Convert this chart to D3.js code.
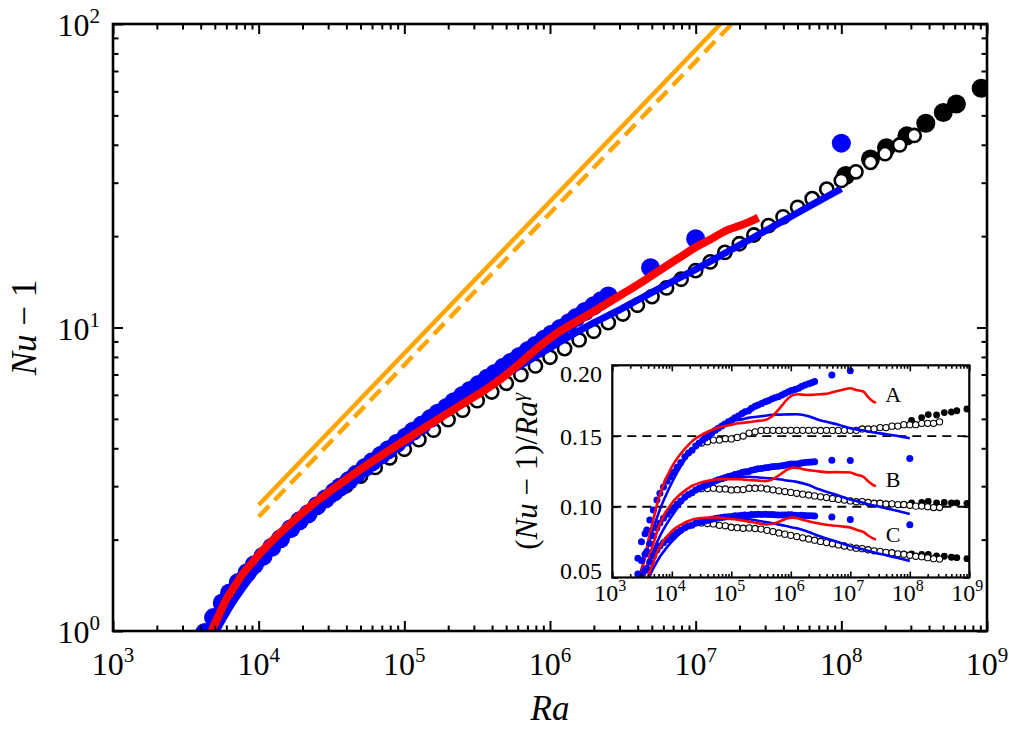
<!DOCTYPE html>
<html>
<head>
<meta charset="utf-8">
<script src="https://cdn.jsdelivr.net/npm/d3@7"></script>
<style>
  body { margin: 0; background: #fff; }
  text { font-family: "Liberation Serif", "Times New Roman", serif; fill: #000; }
</style>
</head>
<body>
<svg id="chart" width="1009" height="733" font-family="Liberation Serif, Times New Roman, serif"></svg>
<script>
// ---- data (Ra given as log10 exponent) ----

// black open circles
var blackOpenLogRa = [4.5,4.6,4.7,4.8,4.9,5.0,5.1,5.2,5.3,5.4,5.5,5.6,5.7,5.8,5.9,6.0,6.1,6.2,6.3,6.4,
                      6.5,6.6,6.7,6.8,6.9,7.0,7.1,7.2,7.3,7.4,7.5,7.6,7.7,7.8,7.9,8.0,8.1,8.2,8.3,8.4,8.5];
var blackOpenNu = [2.80,3.01,3.24,3.46,3.72,3.97,4.27,4.59,4.97,5.34,5.74,6.13,6.55,6.99,7.47,7.98,8.52,9.10,9.72,10.38,
                   11.08,11.84,12.64,13.50,14.42,15.40,16.45,17.68,18.88,20.17,21.67,23.15,24.88,26.58,28.57,30.51,32.58,35.01,37.40,39.94,42.93];

// black filled circles
var blackFillLogRa = [8.03,8.2,8.31,8.45,8.58,8.70,8.79,8.96];
var blackFillNu = [31.7,35.9,39.1,42.8,47.1,51.1,54.5,61.4];

// blue filled circles
var blueDotLogRa = [3.43,3.49,3.55,3.58,3.63,3.69,3.75,3.80,3.86,3.92,3.97,4.03,4.09,4.15,4.22,4.28,4.34,4.40,4.46,4.52,
                    4.56,4.62,4.67,4.73,4.78,4.84,4.89,4.95,5.01,5.06,5.12,5.18,5.23,5.29,5.34,5.40,5.45,5.51,5.57,5.62,
                    5.68,5.73,5.79,5.85,5.90,5.96,6.01,6.07,6.13,6.18,6.24,6.30,6.35,6.40,6.69,7.00,8.00];
var blueDotNu = [0.607,0.748,0.837,0.881,0.988,1.107,1.236,1.334,1.444,1.555,1.652,1.764,1.887,2.014,2.174,2.306,2.433,2.585,2.727,2.875,
                 2.981,3.134,3.282,3.459,3.609,3.792,3.955,4.154,4.359,4.549,4.768,5.013,5.218,5.453,5.692,5.968,6.204,6.491,6.803,7.06,
                 7.395,7.676,8.022,8.40,8.73,9.15,9.50,9.92,10.37,10.79,11.29,11.80,12.24,12.70,15.75,19.62,40.5];

// blue thick line
var blueLineLogRa = [3.45,3.52,3.60,3.70,3.80,3.90,4.00,4.10,4.20,4.30,4.40,4.50,4.60,4.70,4.80,4.90,5.00,5.15,5.30,5.50,
                     5.70,5.90,6.10,6.30,6.46,6.60,6.80,7.00,7.20,7.40,7.60,7.80,8.00];
var blueLineNu = [0.483,0.608,0.769,0.980,1.194,1.405,1.625,1.855,2.092,2.336,2.585,2.838,3.114,3.402,3.693,3.994,4.306,4.782,5.327,6.112,
                  7.016,8.012,9.150,10.35,11.32,12.30,13.85,15.55,17.57,19.84,22.45,25.40,28.66];

// red thick line
var redLogRa = [3.47,3.55,3.60,3.66,3.72,3.77,3.83,3.89,3.95,4.00,4.11,4.20,4.28,4.36,4.45,4.55,4.67,4.78,4.89,5.00,
                5.12,5.23,5.34,5.45,5.57,5.68,5.79,5.86,5.93,6.04,6.13,6.25,6.35,6.50,6.63,6.75,6.88,7.00,7.10,7.22,
                7.30,7.38,7.43];
var redNu = [0.490,0.668,0.801,0.955,1.110,1.251,1.392,1.539,1.668,1.782,2.023,2.219,2.401,2.589,2.794,3.032,3.331,3.621,3.920,4.239,
             4.617,4.978,5.373,5.796,6.296,6.871,7.598,8.126,8.684,9.519,10.13,10.93,11.68,12.92,14.12,15.40,16.89,18.38,19.49,20.97,
             21.62,22.40,23.02];

// orange reference lines (slope 1/2)
var orangeSolidLogRa = [4.0, 7.17];
var orangeSolidNu = [2.6, 100];
var orangeDashLogRa = [4.0, 7.247];
var orangeDashNu = [2.38, 100];

// inset: compensated Nu, one curve set per exponent
var insetNames = ["A", "B", "C"];
var insetGamma = [2/7, 0.31, 1/3];
var insetRefLines = [0.15, 0.10];

var xTickExp = [3,4,5,6,7,8,9];
var yTickExp = [0,1,2];
var insetYTicks = [0.05, 0.10, 0.15, 0.20];

// ---- drawing ----
var svg = d3.select("#chart");
var box = {left:113, right:987, top:24, bottom:631};
var ibox = {left:612.3, right:969.3, top:365.3, bottom:577.5};

var x = d3.scaleLog().domain([1e3, 1e9]).range([box.left, box.right]);
var y = d3.scaleLog().domain([1, 100]).range([box.bottom, box.top]);
var xi = d3.scaleLog().domain([1e3, 1e9]).range([ibox.left, ibox.right]);
var yi = d3.scaleLinear().domain([0.05, 0.20]).range([ibox.bottom, ibox.top]);

var BLUE = "#0000ff", RED = "#ff0000", ORANGE = "#ffa500";
var SERIF = "Liberation Serif, Times New Roman, serif";

function pts(logRa, nu) {
    return logRa.map(function(e, i){ return {ra: Math.pow(10, e), nu: nu[i]}; });
}
function isDecade(v) {
    var l = Math.log10(v);
    return Math.abs(l - Math.round(l)) < 1e-6;
}

var defs = svg.append("defs");
defs.append("clipPath").attr("id", "clipMain").append("rect")
    .attr("x", box.left).attr("y", box.top)
    .attr("width", box.right - box.left).attr("height", box.bottom - box.top);
defs.append("clipPath").attr("id", "clipInset").append("rect")
    .attr("x", ibox.left).attr("y", ibox.top)
    .attr("width", ibox.right - ibox.left).attr("height", ibox.bottom - ibox.top);

// draw all series onto a group; fy maps a point to its plotted value
function drawSeries(g, sx, sy, fy, st) {
    var line = d3.line()
        .x(function(d){ return sx(d.ra); })
        .y(function(d){ return sy(fy(d)); })
        .curve(d3.curveMonotoneX);

    g.selectAll(null).data(pts(blackFillLogRa, blackFillNu)).enter().append("circle")
        .attr("cx", function(d){ return sx(d.ra); })
        .attr("cy", function(d){ return sy(fy(d)); })
        .attr("r", st.rFill).attr("fill", "#000");

    g.selectAll(null).data(pts(blackOpenLogRa, blackOpenNu)).enter().append("circle")
        .attr("cx", function(d){ return sx(d.ra); })
        .attr("cy", function(d){ return sy(fy(d)); })
        .attr("r", st.rOpen).attr("fill", "#fff")
        .attr("stroke", "#000").attr("stroke-width", st.openStroke);

    g.selectAll(null).data(pts(blueDotLogRa, blueDotNu)).enter().append("circle")
        .attr("cx", function(d){ return sx(d.ra); })
        .attr("cy", function(d){ return sy(fy(d)); })
        .attr("r", st.rBlue).attr("fill", BLUE);

    g.append("path").datum(pts(blueLineLogRa, blueLineNu))
        .attr("d", line).attr("fill", "none")
        .attr("stroke", BLUE).attr("stroke-width", st.blueW);

    g.append("path").datum(pts(redLogRa, redNu))
        .attr("d", line).attr("fill", "none")
        .attr("stroke", RED).attr("stroke-width", st.redW);
}

function frameTicks(g, sx, sy, b, xMajor, xMinor, yMajor, yMinor, majLen, minLen, w) {
    var bw = b.right - b.left, bh = b.bottom - b.top;
    function put(axis, tr, vals, len) {
        g.append("g").attr("transform", tr)
            .call(axis.tickValues(vals).tickSize(-len).tickFormat(""))
            .call(function(a){ a.select(".domain").remove(); a.selectAll("line").attr("stroke-width", w); });
    }
    put(d3.axisBottom(sx), "translate(0," + b.bottom + ")", xMajor, majLen);
    put(d3.axisBottom(sx), "translate(0," + b.bottom + ")", xMinor, minLen);
    put(d3.axisTop(sx), "translate(0," + b.top + ")", xMajor, majLen);
    put(d3.axisTop(sx), "translate(0," + b.top + ")", xMinor, minLen);
    put(d3.axisLeft(sy), "translate(" + b.left + ",0)", yMajor, majLen);
    if (yMinor.length) put(d3.axisLeft(sy), "translate(" + b.left + ",0)", yMinor, minLen);
    put(d3.axisRight(sy), "translate(" + b.right + ",0)", yMajor, majLen);
    if (yMinor.length) put(d3.axisRight(sy), "translate(" + b.right + ",0)", yMinor, minLen);
    g.append("rect").attr("x", b.left).attr("y", b.top).attr("width", bw).attr("height", bh)
        .attr("fill", "none").attr("stroke", "#000").attr("stroke-width", w + 0.6);
}

function powLabel(g, px, py, exp, size, supSize, supDy, anchor) {
    var t = g.append("text").attr("x", px).attr("y", py)
        .attr("text-anchor", anchor).attr("font-family", SERIF).style("font-size", size + "px");
    t.append("tspan").text("10");
    t.append("tspan").attr("dy", supDy).style("font-size", supSize + "px").text(exp);
}

// ---- main panel ----
var main = svg.append("g");
var plotMain = main.append("g").attr("clip-path", "url(#clipMain)");

var oLine = d3.line().x(function(d){ return x(d.ra); }).y(function(d){ return y(d.nu); });
plotMain.append("path").datum(pts(orangeSolidLogRa, orangeSolidNu))
    .attr("d", oLine).attr("stroke", ORANGE).attr("stroke-width", 4.5).attr("fill", "none");
plotMain.append("path").datum(pts(orangeDashLogRa, orangeDashNu))
    .attr("d", oLine).attr("stroke", ORANGE).attr("stroke-width", 4.5).attr("fill", "none")
    .attr("stroke-dasharray", "15,8");

drawSeries(plotMain, x, y, function(d){ return d.nu; },
    {rFill: 9.5, rOpen: 6.6, openStroke: 2.6, rBlue: 9.5, blueW: 7, redW: 8});

var xAll = x.ticks(), yAll = y.ticks();
frameTicks(main, x, y, box,
    xAll.filter(isDecade), xAll.filter(function(v){ return !isDecade(v); }),
    yAll.filter(isDecade), yAll.filter(function(v){ return !isDecade(v); }),
    10, 5.5, 2);

xTickExp.forEach(function(e){
    powLabel(main, x(Math.pow(10, e)), box.bottom + 44, e, 32, 21, -13, "middle");
});
yTickExp.forEach(function(e){
    powLabel(main, 100, y(Math.pow(10, e)) + 12, e, 32, 21, -13, "end");
});

main.append("text").attr("x", (box.left + box.right) / 2).attr("y", 720)
    .attr("text-anchor", "middle").attr("font-family", SERIF)
    .style("font-size", "35px").style("font-style", "italic").text("Ra");

var yl = main.append("text").attr("transform", "translate(36," + ((box.top + box.bottom) / 2) + ") rotate(-90)")
    .attr("text-anchor", "middle").attr("font-family", SERIF).style("font-size", "35px");
yl.append("tspan").style("font-style", "italic").text("Nu");
yl.append("tspan").text(" \u2212 1");

// ---- inset ----
var inset = svg.append("g");
inset.append("rect").attr("x", ibox.left).attr("y", ibox.top)
    .attr("width", ibox.right - ibox.left).attr("height", ibox.bottom - ibox.top)
    .attr("fill", "#fff");
var plotInset = inset.append("g").attr("clip-path", "url(#clipInset)");

plotInset.selectAll(null).data(insetRefLines).enter().append("line")
    .attr("x1", ibox.left).attr("x2", ibox.right)
    .attr("y1", function(d){ return yi(d); }).attr("y2", function(d){ return yi(d); })
    .attr("stroke", "#000").attr("stroke-width", 1.8).attr("stroke-dasharray", "9,6");

insetGamma.forEach(function(gm){
    drawSeries(plotInset, xi, yi, function(d){ return d.nu / Math.pow(d.ra, gm); },
        {rFill: 3.4, rOpen: 3.1, openStroke: 1.1, rBlue: 3.5, blueW: 2.6, redW: 2.6});
});

var ixAll = xi.ticks();
frameTicks(inset, xi, yi, ibox,
    ixAll.filter(isDecade), ixAll.filter(function(v){ return !isDecade(v); }),
    insetYTicks, [], 6, 3.5, 1.6);

xTickExp.forEach(function(e){
    powLabel(inset, xi(Math.pow(10, e)) - 2, ibox.bottom + 23, e, 24, 16, -10, "middle");
});
insetYTicks.forEach(function(v){
    var ty = Math.max(ibox.top + 8, Math.min(ibox.bottom - 7, yi(v)));
    inset.append("text").attr("x", 602).attr("y", ty + 8.5)
        .attr("text-anchor", "end").attr("font-family", SERIF)
        .style("font-size", "24px").text(v.toFixed(2));
});

// curve labels A, B, C
var labelPos = [0.174, 0.114, 0.0751];
insetNames.forEach(function(n, i){
    inset.append("text").attr("x", xi(Math.pow(10, 7.72))).attr("y", yi(labelPos[i]))
        .attr("text-anchor", "middle").attr("font-family", SERIF)
        .style("font-size", "22px").text(n);
});

var il = inset.append("text")
    .attr("transform", "translate(537," + ((ibox.top + ibox.bottom) / 2) + ") rotate(-90)")
    .attr("text-anchor", "middle").attr("font-family", SERIF).style("font-size", "31px");
il.append("tspan").text("(");
il.append("tspan").style("font-style", "italic").text("Nu");
il.append("tspan").text(" \u2212 1)/");
il.append("tspan").style("font-style", "italic").text("Ra");
il.append("tspan").attr("dy", -11).style("font-size", "21px").style("font-style", "italic").text("\u03b3");
</script>
</body>
</html>
